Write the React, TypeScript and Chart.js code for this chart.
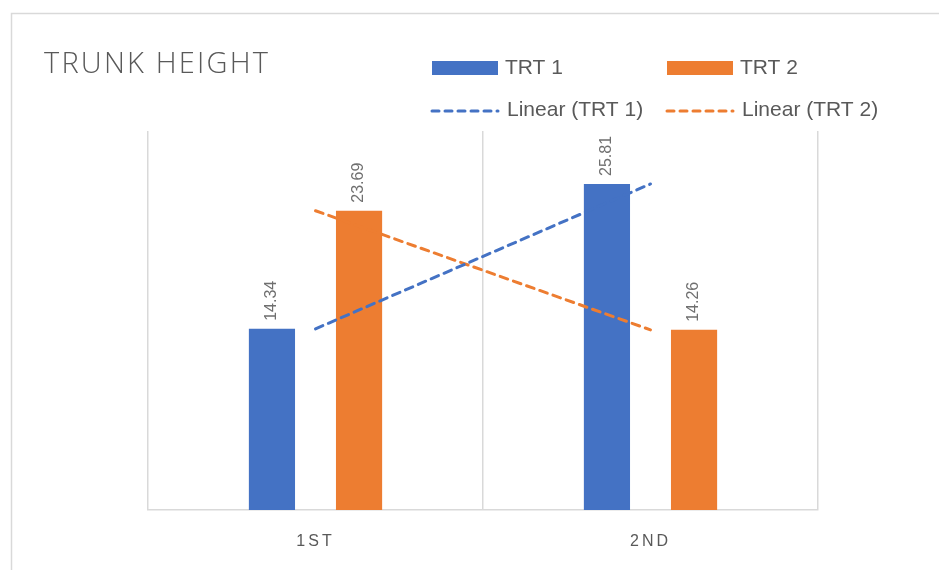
import React, { useEffect, useRef } from 'react';
import { Chart, registerables } from 'chart.js';

Chart.register(...registerables);

const chartTitle = 'TRUNK HEIGHT';
const categories = ['1ST', '2ND'];
const seriesNames = ['TRT 1', 'TRT 2'];
const trt1Values = [14.34, 25.81];
const trt2Values = [23.69, 14.26];
const yMin = 0;
const yMax = 30;

const BLUE = '#4472C4';
const ORANGE = '#ED7D31';
const TEXT = '#595959';
const GRID = '#d9d9d9';

// least-squares linear trendline over x = 1..n
function linearTrend(values: number[]): number[] {
  const n = values.length;
  const xs = values.map((_, i) => i + 1);
  const mx = xs.reduce((a, b) => a + b, 0) / n;
  const my = values.reduce((a, b) => a + b, 0) / n;
  let num = 0;
  let den = 0;
  xs.forEach((x, i) => {
    num += (x - mx) * (values[i] - my);
    den += (x - mx) * (x - mx);
  });
  const slope = den === 0 ? 0 : num / den;
  const b = my - slope * mx;
  return xs.map((x) => b + slope * x);
}

const framePlugin = {
  id: 'frame',
  beforeDraw(chart: any) {
    const ctx = chart.ctx;
    ctx.save();
    ctx.fillStyle = '#ffffff';
    ctx.fillRect(0, 0, chart.width, chart.height);
    ctx.strokeStyle = GRID;
    ctx.lineWidth = 1.5;
    ctx.strokeRect(11.5, 13.5, chart.width + 20, chart.height + 20);
    // title
    ctx.fillStyle = TEXT;
    ctx.font = '300 29px "Open Sans", "Liberation Sans", sans-serif';
    ctx.textBaseline = 'alphabetic';
    ctx.textAlign = 'left';
    (ctx as any).letterSpacing = '0px';
    const w = ctx.measureText(chartTitle).width;
    const target = 224;
    const sp = Math.max(0, (target - w) / (chartTitle.length - 1));
    (ctx as any).letterSpacing = sp.toFixed(2) + 'px';
    ctx.fillText(chartTitle, 44, 73);
    ctx.restore();
    // letter spacing for the category axis labels
    (ctx as any).letterSpacing = '3px';
  },
  beforeDatasetsDraw(chart: any) {
    (chart.ctx as any).letterSpacing = '0px';
  },
  afterDatasetsDraw(chart: any) {
    const ctx = chart.ctx;
    ctx.save();
    (ctx as any).letterSpacing = '0px';
    ctx.fillStyle = '#6f6f6f';
    ctx.font = '16px "Liberation Sans", Arial, sans-serif';
    ctx.textAlign = 'left';
    ctx.textBaseline = 'middle';
    chart.data.datasets.forEach((ds: any, di: number) => {
      if (ds.type !== 'bar') return;
      const meta = chart.getDatasetMeta(di);
      meta.data.forEach((el: any, i: number) => {
        ctx.save();
        ctx.translate(el.x, el.y - 8);
        ctx.rotate(-Math.PI / 2);
        ctx.fillText(Number(ds.data[i]).toFixed(2), 0, 0);
        ctx.restore();
      });
    });
    ctx.restore();
  },
  afterDraw(chart: any) {
    const ctx = chart.ctx;
    ctx.save();
    (ctx as any).letterSpacing = '0px';
    ctx.font = '21px "Liberation Sans", Arial, sans-serif';
    ctx.fillStyle = TEXT;
    ctx.textAlign = 'left';
    ctx.textBaseline = 'middle';
    const cols = [432, 667];
    const ds = chart.data.datasets;
    const bars = ds.filter((d: any) => d.type === 'bar');
    const lines = ds.filter((d: any) => d.type === 'line');
    bars.forEach((d: any, i: number) => {
      const x = cols[i];
      ctx.fillStyle = d.backgroundColor;
      ctx.fillRect(x, 61, 66, 14);
      ctx.fillStyle = TEXT;
      ctx.fillText(d.label, x + 73, 68);
    });
    lines.forEach((d: any, i: number) => {
      const x = cols[i] - 1;
      ctx.strokeStyle = d.borderColor;
      ctx.lineWidth = 3;
      ctx.lineCap = 'round';
      ctx.setLineDash([7, 6]);
      ctx.beginPath();
      ctx.moveTo(x + 1, 111);
      ctx.lineTo(x + 67, 111);
      ctx.stroke();
      ctx.setLineDash([]);
      ctx.fillStyle = TEXT;
      ctx.fillText(d.label, x + 76, 110);
    });
    ctx.restore();
  },
};

export default function App() {
  const ref = useRef<HTMLCanvasElement | null>(null);

  useEffect(() => {
    if (!ref.current) return;
    const chart = new Chart(ref.current, {
      type: 'bar',
      data: {
        labels: categories,
        datasets: [
          {
            type: 'line',
            label: 'Linear (' + seriesNames[0] + ')',
            data: linearTrend(trt1Values),
            borderColor: BLUE,
            backgroundColor: BLUE,
            borderWidth: 3,
            borderDash: [8, 6],
            borderCapStyle: 'round',
            pointRadius: 0,
            fill: false,
            order: 0,
          } as any,
          {
            type: 'line',
            label: 'Linear (' + seriesNames[1] + ')',
            data: linearTrend(trt2Values),
            borderColor: ORANGE,
            backgroundColor: ORANGE,
            borderWidth: 3,
            borderDash: [8, 6],
            borderCapStyle: 'round',
            pointRadius: 0,
            fill: false,
            order: 0,
          } as any,
          {
            type: 'bar',
            label: seriesNames[0],
            data: trt1Values,
            backgroundColor: BLUE,
            categoryPercentage: 0.52,
            barPercentage: 0.53,
            order: 1,
          } as any,
          {
            type: 'bar',
            label: seriesNames[1],
            data: trt2Values,
            backgroundColor: ORANGE,
            categoryPercentage: 0.52,
            barPercentage: 0.53,
            order: 1,
          } as any,
        ],
      },
      options: {
        animation: false,
        responsive: false,
        layout: { padding: { left: 148, right: 121, top: 131, bottom: 0 } },
        plugins: {
          legend: { display: false },
          title: { display: false },
          tooltip: { enabled: false },
        },
        scales: {
          x: {
            offset: true,
            grid: {
              offset: true,
              color: GRID,
              lineWidth: 1.5,
              drawTicks: false,
            },
            border: { color: GRID, width: 1.5 },
            ticks: {
              color: TEXT,
              font: { family: '"Liberation Sans", Arial, sans-serif', size: 16 },
              padding: 22,
            },
            afterFit: (scale: any) => {
              scale.height = 60;
            },
          },
          y: {
            display: false,
            min: yMin,
            max: yMax,
          },
        },
      },
      plugins: [framePlugin],
    });
    return () => chart.destroy();
  }, []);

  return (
    <div style={{ position: 'fixed', left: 0, top: 0, width: 939, height: 570, background: '#fff' }}>
      <canvas ref={ref} width={939} height={570} style={{ display: 'block', width: 939, height: 570 }} />
    </div>
  );
}
